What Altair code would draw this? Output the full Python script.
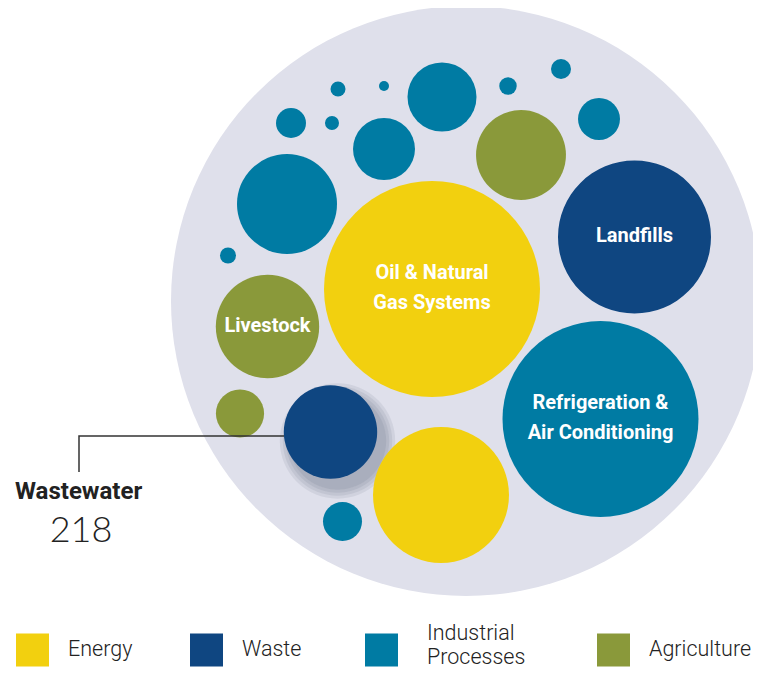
import altair as alt
import pandas as pd

# ---- data (bubble area is proportional to value) ----
sector_names = ["Energy", "Waste", "Industrial Processes", "Agriculture"]
sector_colors = ["#F2D00F", "#0F4681", "#007BA3", "#8A993A"]
legend_text = ["Energy", "Waste", "Industrial\nProcesses", "Agriculture"]

bubble_id = list(range(1, 21))
bubble_sector = ["Energy", "Waste", "Industrial Processes", "Agriculture", "Energy",
                 "Waste", "Agriculture", "Industrial Processes", "Industrial Processes",
                 "Industrial Processes", "Industrial Processes", "Industrial Processes",
                 "Agriculture", "Industrial Processes", "Industrial Processes",
                 "Industrial Processes", "Industrial Processes", "Industrial Processes",
                 "Industrial Processes", "Industrial Processes"]
bubble_label = ["Oil & Natural\nGas Systems", "Landfills", "Refrigeration &\nAir Conditioning",
                "Livestock", "", "Wastewater", "", "", "", "", "", "", "", "", "", "", "", "", "", ""]
bubble_value = [1166, 585, 960, 267, 462, 218, 58, 38, 250, 6.4, 96, 119, 202, 22.5,
                4.9, 5.6, 2.5, 7.6, 10, 44]
# packed-layout coordinates of each bubble (layout units, origin at the enclosing circle)
bubble_x = [-34, 168.5, 134.5, -198.5, -25, -135.5, -226, -123.5, -179, -238, -82, -24,
            55, -175, -134, -128, -82, 42, 95, 133]
bubble_y = [12, 64, -118, -25.5, -194, -131, -112.5, -220.5, 97, 45.5, 152, 204, 146,
            178, 178, 212, 215, 215, 232, 182]

# callout for Wastewater (layout units)
callout_x = [-182, -387, -387]
callout_y = [-135, -135, -171]
callout_title_x, callout_title_y = -451, -198
callout_value_x, callout_value_y = -385, -241

# legend layout (layout units)
legend_swatch_x = [-433.5, -259.5, -84.5, 147.5]
legend_swatch_y = [-349, -349, -349, -349]
legend_label_x = [-398, -224, -39, 183]
legend_label_y = [-349, -349, -333, -349]

bubbles = pd.DataFrame({
    "id": bubble_id, "sector": bubble_sector, "label": bubble_label,
    "value": bubble_value, "x": bubble_x, "y": bubble_y,
})
container = pd.DataFrame({"x": [0], "y": [0]})
callout_line = pd.DataFrame({"x": callout_x, "y": callout_y, "o": list(range(len(callout_x)))})
legend_df = pd.DataFrame({
    "sector": sector_names, "text": legend_text,
    "sx": legend_swatch_x, "sy": legend_swatch_y,
    "lx": legend_label_x, "ly": legend_label_y,
})

xs = alt.Scale(domain=[-458, 287], nice=False, zero=False)
ys = alt.Scale(domain=[-369, 293], nice=False, zero=False)
ss = alt.Scale(type="linear", domain=[0, 1000], range=[0, 40016], zero=True)
cs = alt.Scale(domain=sector_names, range=sector_colors)

X = alt.X("x:Q", scale=xs, axis=None)
Y = alt.Y("y:Q", scale=ys, axis=None)

bg = alt.Chart(container).mark_circle(color="#DFE0EB", opacity=1).encode(
    x=X, y=Y, size=alt.value(590 ** 2)
)

shadow_layers = []
for d in [2, 5, 8, 11]:
    shadow_layers.append(
        alt.Chart(bubbles).transform_filter("datum.label == 'Wastewater'")
        .mark_circle(color="#2A3050", opacity=0.08, xOffset=7, yOffset=9)
        .encode(x=X, y=Y, size=alt.value((2 * (46.7 + d)) ** 2))
    )

circles = alt.Chart(bubbles).mark_circle(opacity=1, strokeWidth=0).encode(
    x=X, y=Y,
    size=alt.Size("value:Q", scale=ss, legend=None),
    color=alt.Color("sector:N", scale=cs, legend=None),
)

line = alt.Chart(callout_line).mark_line(color="#333333", strokeWidth=1.5).encode(
    x=X, y=Y, order="o:Q"
)

texts = alt.Chart(bubbles).transform_filter(
    "datum.label != '' && datum.label != 'Wastewater'"
).transform_calculate(
    ty="datum.y + (indexof(datum.label, '\\n') >= 0 ? 15 : 0)"
).mark_text(
    font="Roboto", fontWeight="bold", fontSize=20, color="white",
    lineBreak="\n", lineHeight=30, align="center", baseline="middle", dy=-1
).encode(x=X, y=alt.Y("ty:Q", scale=ys, axis=None), text="label:N")

ww_title = alt.Chart(bubbles).transform_filter("datum.label == 'Wastewater'").transform_calculate(
    tx=str(callout_title_x), ty=str(callout_title_y)
).mark_text(
    font="Roboto", fontWeight="bold", fontSize=24, color="#222222",
    align="left", baseline="alphabetic"
).encode(x=alt.X("tx:Q", scale=xs, axis=None), y=alt.Y("ty:Q", scale=ys, axis=None),
         text="label:N")

ww_value = alt.Chart(bubbles).transform_filter("datum.label == 'Wastewater'").transform_calculate(
    tx=str(callout_value_x), ty=str(callout_value_y)
).mark_text(
    font="Lato", fontWeight=300, fontSize=36, color="#222222",
    align="center", baseline="alphabetic"
).encode(x=alt.X("tx:Q", scale=xs, axis=None), y=alt.Y("ty:Q", scale=ys, axis=None),
         text=alt.Text("value:Q", format="d"))

leg_sw = alt.Chart(legend_df).mark_square(opacity=1, strokeWidth=0, size=33 * 33).encode(
    x=alt.X("sx:Q", scale=xs, axis=None), y=alt.Y("sy:Q", scale=ys, axis=None),
    color=alt.Color("sector:N", scale=cs, legend=None),
)
leg_tx = alt.Chart(legend_df).mark_text(
    font="Roboto", fontWeight=300, fontSize=21.5, color="#222222",
    align="left", baseline="middle", lineBreak="\n", lineHeight=24
).encode(
    x=alt.X("lx:Q", scale=xs, axis=None), y=alt.Y("ly:Q", scale=ys, axis=None),
    text="text:N",
)

chart = alt.layer(bg, *shadow_layers, circles, line, texts, ww_title, ww_value,
                  leg_sw, leg_tx).properties(
    width=745, height=662, padding=0, autosize=alt.AutoSizeParams(type="none"),
    background="white",
).configure_view(stroke=None)

chart.save("out.html", embed_options={"renderer": "svg", "actions": False})
